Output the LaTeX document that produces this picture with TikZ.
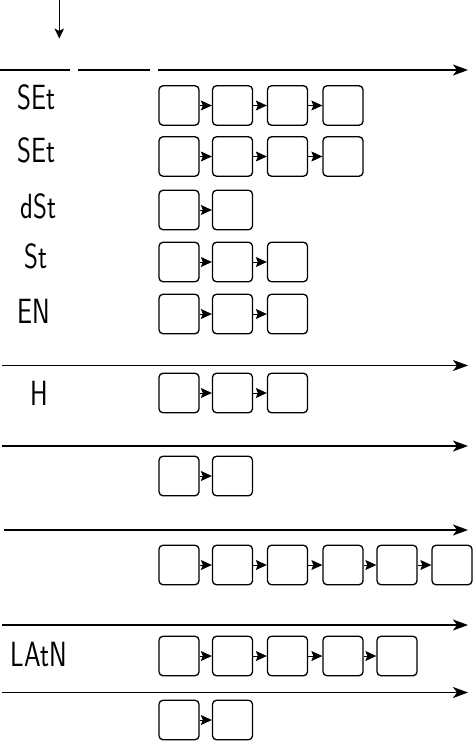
\documentclass[tikz,border=0pt]{standalone}
\usetikzlibrary{arrows.meta}
\begin{document}
\begin{tikzpicture}[x=1pt,y=-1pt,
  cell/.style={draw,line width=1.3pt,rounded corners=4pt,minimum width=40pt,minimum height=39.5pt,inner sep=0pt},
  link/.style={line width=1pt,-{Stealth[length=11pt,width=10pt,inset=2pt]}},
  rule/.style={line width=1.7pt},
  axis/.style={rule,-{Stealth[length=15pt,width=11pt,inset=4pt]}},
  seg/.style={font=\sffamily\fontsize{28}{28}\selectfont,inner sep=0pt,anchor=center}]
\useasboundingbox (0,0) rectangle (472,741);
% top down arrow
\coordinate (ds) at (59.3,0);
\coordinate (de) at (59.3,38.5);
\draw[line width=1pt,-{Stealth[length=10pt,width=9.5pt,inset=2.5pt]}] (ds) -- (de);
% top rule segments
\coordinate (t1a) at (0,70); \coordinate (t1b) at (70,70);
\coordinate (t2a) at (78,70); \coordinate (t2b) at (150,70);
\coordinate (t3a) at (158,70); \coordinate (t3b) at (468,70);
\draw[rule] (t1a) -- (t1b);
\draw[rule] (t2a) -- (t2b);
\draw[axis] (t3a) -- (t3b);
% other rules
\foreach \k/\xs/\yy in {1/2/365.5, 2/2/446, 3/4/530, 4/2/625, 5/2/692.5}{
  \coordinate (h\k a) at (\xs,\yy);
  \coordinate (h\k b) at (468,\yy);
  \draw[axis] (h\k a) -- (h\k b);
}
% rows of boxes
\foreach \r/\y/\n in {1/105.5/4, 2/156.5/4, 3/210/2, 4/262/3, 5/314/3, 6/393/3, 7/476/2, 8/565/6, 9/656/5, 10/720/2}{
  \foreach \c in {1,...,\n}{
    \pgfmathsetmacro\xx{{179,232.5,287.5,343,397,452}[\c-1]}
    \node[cell] (r\r-\c) at (\xx,\y) {};
    \ifnum\c>1
      \pgfmathtruncatemacro\p{\c-1}
      \draw[link] (r\r-\p) -- (r\r-\c);
    \fi
  }
}
% labels
\node[seg] (l1) at (36.5,97.5) {\scalebox{0.95}[1.25]{SEt}};
\node[seg] (l2) at (36.5,150.5) {\scalebox{0.95}[1.25]{SEt}};
\node[seg] (l3) at (38.5,206) {\scalebox{0.95}[1.25]{dSt}};
\node[seg] (l4) at (36,256) {\scalebox{0.95}[1.25]{St}};
\node[seg] (l5) at (34,311) {\scalebox{0.95}[1.25]{EN}};
\node[seg] (l6) at (39.5,393) {\scalebox{0.95}[1.25]{H}};
\node[seg] (l7) at (39,654) {\scalebox{0.95}[1.25]{LAtN}};
\end{tikzpicture}
\end{document}
